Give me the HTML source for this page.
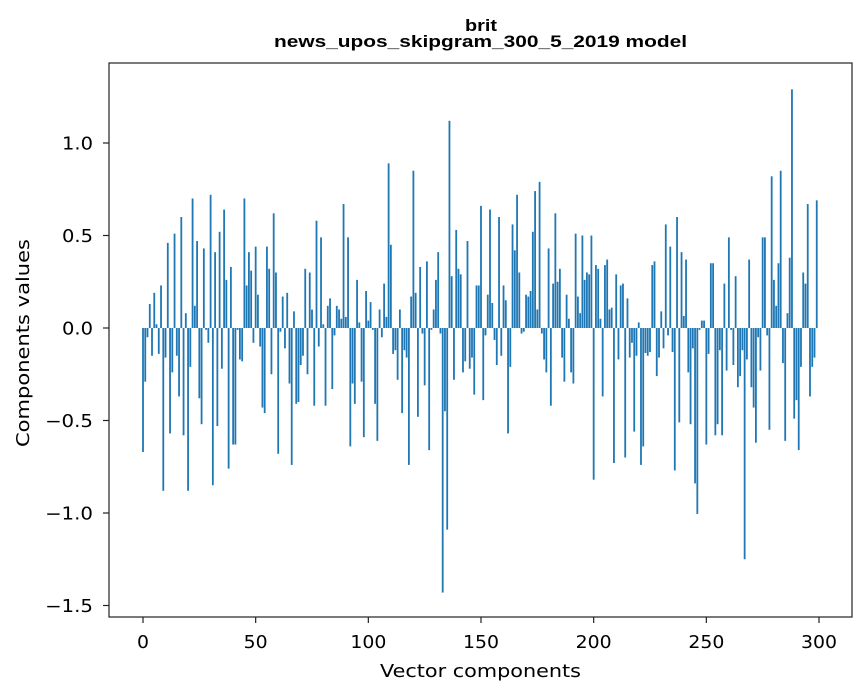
<!DOCTYPE html>
<html><head><meta charset="utf-8"><style>
body{margin:0;background:#fff;}
svg{display:block;font-family:"DejaVu Sans","Liberation Sans",sans-serif;}
</style></head><body>
<svg id="chart" width="867" height="696" viewBox="0 0 867 696">
<rect width="867" height="696" fill="#fff"/>
<text x="481" y="31" text-anchor="middle" font-size="17" font-weight="bold" font-family="Liberation Sans, sans-serif" textLength="32" lengthAdjust="spacingAndGlyphs">brit</text>
<text x="480.5" y="47" text-anchor="middle" font-size="17" font-weight="bold" font-family="Liberation Sans, sans-serif" textLength="413" lengthAdjust="spacingAndGlyphs">news_upos_skipgram_300_5_2019 model</text>
<g id="bars"></g>
<g id="xticks"></g>
<g id="yticks"></g>
<rect x="109" y="63" width="743" height="554" fill="none" stroke="#222" stroke-width="1.2"/>
<text x="480.5" y="677" text-anchor="middle" font-size="18" textLength="201" lengthAdjust="spacingAndGlyphs">Vector components</text>
<text transform="translate(29,343) rotate(-90)" text-anchor="middle" font-size="18" textLength="208" lengthAdjust="spacingAndGlyphs">Components values</text>
</svg>
<script>
const values = [
-0.67,-0.29,-0.05,0.13,-0.15,0.19,0.02,-0.14,0.23,-0.88,
-0.16,0.46,-0.57,-0.24,0.51,-0.15,-0.37,0.60,-0.58,0.08,
-0.88,-0.21,0.70,0.12,0.47,-0.38,-0.52,0.43,-0.01,-0.08,
0.72,-0.85,0.41,-0.53,0.52,-0.22,0.64,0.26,-0.76,0.33,
-0.63,-0.63,-0.01,-0.17,-0.18,0.70,0.23,0.41,0.31,-0.08,
0.44,0.18,-0.10,-0.43,-0.46,0.44,0.32,-0.25,0.62,0.30,
-0.68,-0.02,0.17,-0.11,0.19,-0.30,-0.74,0.09,-0.41,-0.40,
-0.20,-0.15,0.32,-0.25,0.30,0.10,-0.42,0.58,-0.10,0.49,
0.02,-0.42,0.12,0.16,-0.33,-0.04,0.12,0.10,0.05,0.67,
0.06,0.49,-0.64,-0.30,-0.41,0.26,0.03,-0.29,-0.59,0.20,
0.04,0.14,-0.01,-0.41,-0.61,0.10,-0.05,0.24,0.06,0.89,
0.45,-0.14,-0.12,-0.28,0.10,-0.46,-0.12,-0.16,-0.74,0.17,
0.85,0.19,-0.48,0.33,-0.03,-0.31,0.36,-0.66,-0.01,0.10,
0.26,0.41,-0.03,-1.43,-0.45,-1.09,1.12,0.28,-0.28,0.53,
0.32,0.29,-0.24,-0.18,0.47,-0.22,-0.16,-0.36,0.23,0.23,
0.66,-0.39,-0.04,0.18,0.64,0.135,-0.065,-0.20,0.60,-0.15,
0.23,0.15,-0.57,-0.21,0.56,0.42,0.72,0.30,-0.03,-0.02,
0.18,0.17,0.20,0.52,0.74,0.10,0.79,-0.03,-0.17,-0.24,
0.43,-0.42,0.24,0.62,0.25,0.32,-0.16,-0.29,0.18,0.05,
-0.24,-0.30,0.51,0.17,0.08,0.50,0.26,0.30,0.29,0.50,
-0.82,0.34,0.32,0.05,-0.37,0.34,0.37,0.10,0.11,-0.73,
0.29,-0.17,0.23,0.24,-0.70,0.16,-0.16,-0.08,-0.56,-0.15,
0.03,-0.74,-0.64,-0.135,-0.15,-0.13,0.34,0.36,-0.26,-0.16,
0.09,-0.11,0.56,-0.04,0.44,-0.13,-0.77,0.60,-0.51,0.41,
0.065,0.37,-0.24,-0.52,-0.11,-0.84,-1.005,-0.01,0.04,0.04,
-0.63,-0.14,0.35,0.35,-0.58,-0.52,-0.12,-0.58,0.24,-0.23,
0.49,-0.01,-0.20,0.28,-0.32,-0.26,-0.12,-1.25,-0.17,0.37,
-0.32,-0.43,-0.62,-0.05,-0.23,0.49,0.49,-0.04,-0.55,0.82,
0.26,0.12,0.35,0.85,-0.19,-0.61,0.08,0.38,1.29,-0.49,
-0.39,-0.66,-0.21,0.30,0.24,0.67,-0.37,-0.21,-0.16,0.69
];
const xTickValues = [0,50,100,150,200,250,300];
const yTickValues = [1.0,0.5,0.0,-0.5,-1.0,-1.5];
const yTickLabels = ["1.0","0.5","0.0","\u22120.5","\u22121.0","\u22121.5"];

const NS = "http://www.w3.org/2000/svg";
function xScale(v){ return 143 + v * (676/300); }
function yScale(v){ return 328 - v * 185; }
const barW = 0.8 * (676/300);

const barsG = document.getElementById('bars');
values.forEach(function(v, i){
  const r = document.createElementNS(NS, 'rect');
  const y0 = yScale(0), y1 = yScale(v);
  r.setAttribute('x', xScale(i) - barW/2);
  r.setAttribute('y', Math.min(y0, y1));
  r.setAttribute('width', barW);
  r.setAttribute('height', Math.abs(y1 - y0));
  r.setAttribute('fill', '#1f77b4');
  
  
  barsG.appendChild(r);
});

const xg = document.getElementById('xticks');
xTickValues.forEach(function(t){
  const x = xScale(t);
  const l = document.createElementNS(NS, 'line');
  l.setAttribute('x1', x); l.setAttribute('x2', x);
  l.setAttribute('y1', 617); l.setAttribute('y2', 623);
  l.setAttribute('stroke', '#222');
  l.setAttribute('stroke-width', '1.2');
  
  
  xg.appendChild(l);
  const tx = document.createElementNS(NS, 'text');
  const s = String(t);
  tx.setAttribute('x', x); tx.setAttribute('y', 648);
  tx.setAttribute('text-anchor', 'middle');
  tx.setAttribute('font-size', '17.5');
  tx.setAttribute('textLength', String(s.length * 12));
  tx.setAttribute('lengthAdjust', 'spacingAndGlyphs');
  tx.textContent = s;
  
  
  xg.appendChild(tx);
});

const yg = document.getElementById('yticks');
yTickValues.forEach(function(t, i){
  const y = yScale(t);
  const l = document.createElementNS(NS, 'line');
  l.setAttribute('x1', 103); l.setAttribute('x2', 109);
  l.setAttribute('y1', y); l.setAttribute('y2', y);
  l.setAttribute('stroke', '#222');
  l.setAttribute('stroke-width', '1.2');
  
  
  yg.appendChild(l);
  const tx = document.createElementNS(NS, 'text');
  const s = yTickLabels[i];
  tx.setAttribute('x', 93); tx.setAttribute('y', y + 6.5);
  tx.setAttribute('text-anchor', 'end');
  tx.setAttribute('font-size', '17.5');
  tx.setAttribute('textLength', t < 0 ? '48' : '31');
  tx.setAttribute('lengthAdjust', 'spacingAndGlyphs');
  tx.textContent = s;
  
  
  xg.appendChild(tx);
});
</script>
</body></html>
